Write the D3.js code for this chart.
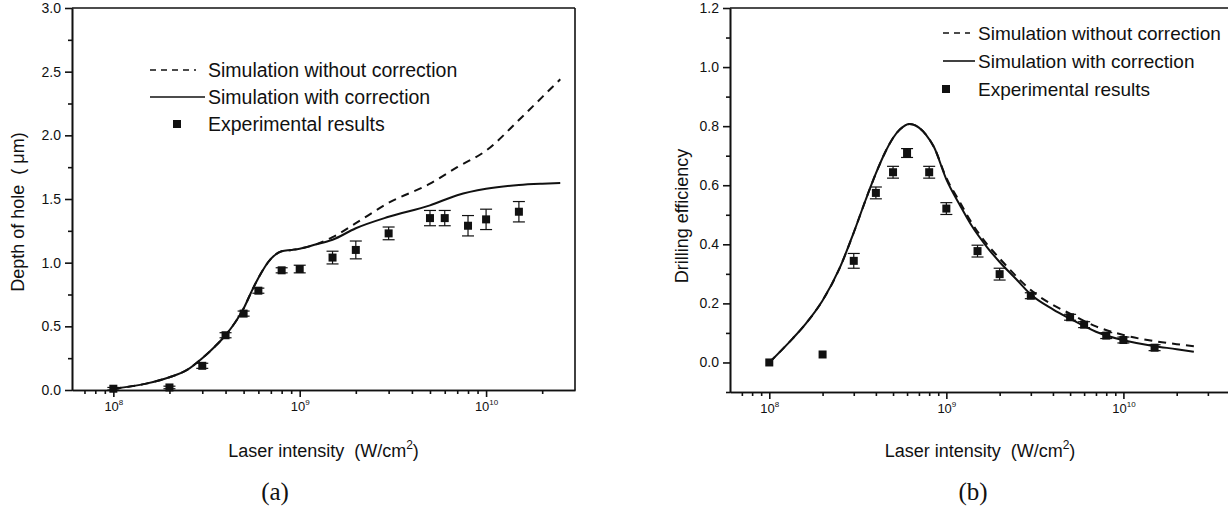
<!DOCTYPE html>
<html>
<head>
<meta charset="utf-8">
<script src="https://cdn.jsdelivr.net/npm/d3@7"></script>
<style>
  body { margin: 0; background: #fff; }
  svg text { font-family: "Liberation Sans", Arial, sans-serif; fill: #111; white-space: pre; }
  .axis path, .axis line { stroke: #111; stroke-width: 1.6; }
  .axis text { font-size: 14px; }
  .cap { font-family: "Liberation Serif", "Times New Roman", serif !important; font-size: 25px; }
</style>
</head>
<body>
<div id="chart"></div>
<script>
// ---- panel (a): depth of hole ----
var expIntensityA = [1e8, 2e8, 3e8, 4e8, 5e8, 6e8, 8e8, 1e9, 1.5e9, 2e9, 3e9, 5e9, 6e9, 8e9, 1e10, 1.5e10];
var expDepth = [0.01, 0.02, 0.19, 0.43, 0.60, 0.78, 0.94, 0.95, 1.04, 1.10, 1.23, 1.35, 1.35, 1.29, 1.34, 1.40];
var expDepthErr = [0.01, 0.01, 0.02, 0.02, 0.02, 0.02, 0.02, 0.03, 0.05, 0.07, 0.05, 0.06, 0.06, 0.08, 0.08, 0.08];

var simIntensityA = [1e8, 1.5e8, 2e8, 2.5e8, 3e8, 3.5e8, 4e8, 4.5e8, 5e8, 5.5e8, 6e8, 7e8, 8e8, 9e8, 1e9, 1.2e9, 1.5e9, 2e9, 3e9, 5e9, 7e9, 1e10, 1.5e10, 2e10, 2.5e10];
var depthWith = [0.01, 0.05, 0.10, 0.16, 0.25, 0.34, 0.43, 0.53, 0.64, 0.77, 0.88, 1.03, 1.09, 1.10, 1.11, 1.14, 1.18, 1.27, 1.36, 1.45, 1.53, 1.58, 1.61, 1.62, 1.625];
var depthWithout = [0.01, 0.05, 0.10, 0.16, 0.25, 0.34, 0.43, 0.53, 0.64, 0.77, 0.88, 1.03, 1.09, 1.10, 1.11, 1.14, 1.20, 1.31, 1.47, 1.62, 1.75, 1.88, 2.12, 2.30, 2.44];
var depthTicks = [0, 0.5, 1.0, 1.5, 2.0, 2.5, 3.0];

// ---- panel (b): drilling efficiency ----
var expIntensityB = [1e8, 2e8, 3e8, 4e8, 5e8, 6e8, 8e8, 1e9, 1.5e9, 2e9, 3e9, 5e9, 6e9, 8e9, 1e10, 1.5e10];
var expEff = [0.0, 0.027, 0.344, 0.574, 0.644, 0.709, 0.644, 0.521, 0.377, 0.299, 0.226, 0.153, 0.128, 0.091, 0.076, 0.05];
var expEffErr = [0, 0, 0.025, 0.02, 0.02, 0.015, 0.02, 0.02, 0.02, 0.02, 0.01, 0.01, 0.01, 0.01, 0.01, 0.01];

var simIntensityB = [1e8, 1.35e8, 1.6e8, 2e8, 2.5e8, 3e8, 3.5e8, 4e8, 4.5e8, 5e8, 5.5e8, 6.2e8, 7e8, 7.7e8, 8.5e8, 1e9, 1.2e9, 1.4e9, 1.7e9, 2e9, 2.5e9, 3e9, 4e9, 5e9, 7e9, 1e10, 1.5e10, 2e10, 2.5e10];
var effWith = [0.0, 0.08, 0.13, 0.21, 0.32, 0.44, 0.55, 0.64, 0.71, 0.76, 0.79, 0.807, 0.795, 0.77, 0.73, 0.62, 0.53, 0.46, 0.39, 0.34, 0.28, 0.23, 0.18, 0.148, 0.104, 0.075, 0.055, 0.045, 0.036];
var effWithout = [0.0, 0.08, 0.13, 0.21, 0.32, 0.44, 0.55, 0.64, 0.71, 0.76, 0.79, 0.807, 0.795, 0.77, 0.73, 0.625, 0.54, 0.47, 0.40, 0.352, 0.29, 0.245, 0.195, 0.165, 0.122, 0.093, 0.072, 0.062, 0.055];
var effTicks = [0.0, 0.2, 0.4, 0.6, 0.8, 1.0, 1.2];

var legendLabels = ["Simulation without correction", "Simulation with correction", "Experimental results"];
var majorX = [1e8, 1e9, 1e10];
var majorExp = ["8", "9", "10"];

var svg = d3.select("#chart").append("svg")
    .attr("width", 1228)
    .attr("height", 507);

function drawPanel(p) {
    var x = d3.scaleLog().domain(p.xDomain).range(p.xRange);
    var y = d3.scaleLinear().domain(p.yDomain).range(p.yRange);
    var g = svg.append("g");

    // minor x ticks (2..9 of every decade)
    var minor = [];
    [1e7, 1e8, 1e9, 1e10].forEach(function (d) {
        for (var k = 2; k <= 9; k++) {
            var v = d * k;
            if (v > p.xDomain[0] && v < p.xDomain[1]) minor.push(v);
        }
    });
    g.append("g").attr("class", "axis")
        .attr("transform", "translate(0," + p.yRange[0] + ")")
        .call(d3.axisBottom(x).tickValues(minor).tickSize(4).tickSizeOuter(0).tickFormat(""));
    var xa = g.append("g").attr("class", "axis")
        .attr("transform", "translate(0," + p.yRange[0] + ")")
        .call(d3.axisBottom(x).tickValues(majorX).tickSize(7).tickSizeOuter(0).tickFormat(""));
    xa.selectAll(".tick").append("text")
        .attr("y", 21)
        .attr("text-anchor", "middle")
        .style("font-size", "13px")
        .each(function (d, i) {
            var t = d3.select(this);
            t.append("tspan").text("10");
            t.append("tspan").attr("dy", -6).style("font-size", "8px").text(majorExp[i]);
        });

    // y axis with minor ticks halfway
    var yMinor = [];
    for (var i = 0; i < p.yTicks.length - 1; i++) yMinor.push((p.yTicks[i] + p.yTicks[i + 1]) / 2);
    if (p.yDomain[0] < p.yTicks[0]) yMinor.push(p.yTicks[0] - (p.yTicks[1] - p.yTicks[0]) / 2);
    g.append("g").attr("class", "axis")
        .attr("transform", "translate(" + p.xRange[0] + ",0)")
        .call(d3.axisLeft(y).tickValues(yMinor).tickSize(4).tickSizeOuter(0).tickFormat(""));
    g.append("g").attr("class", "axis")
        .attr("transform", "translate(" + p.xRange[0] + ",0)")
        .call(d3.axisLeft(y).tickValues(p.yTicks).tickSize(7).tickSizeOuter(0).tickFormat(d3.format(".1f")))
        .selectAll("text").attr("dx", -1);

    // box top / right
    g.append("line").attr("x1", p.xRange[0]).attr("x2", p.xRange[1])
        .attr("y1", p.yRange[1]).attr("y2", p.yRange[1])
        .attr("stroke", "#111").attr("stroke-width", 1.6);
    g.append("line").attr("x1", p.xRange[1]).attr("x2", p.xRange[1])
        .attr("y1", p.yRange[1]).attr("y2", p.yRange[0])
        .attr("stroke", "#111").attr("stroke-width", 1.6);

    // curves
    var line = d3.line()
        .x(function (d) { return x(d[0]); })
        .y(function (d) { return y(d[1]); })
        .curve(d3.curveMonotoneX);
    g.append("path")
        .datum(d3.zip(p.simX, p.simWithout))
        .attr("d", line).attr("fill", "none")
        .attr("stroke", "#111").attr("stroke-width", 2)
        .attr("stroke-dasharray", "8,6");
    g.append("path")
        .datum(d3.zip(p.simX, p.simWith))
        .attr("d", line).attr("fill", "none")
        .attr("stroke", "#111").attr("stroke-width", 2);

    // experimental points with error bars
    var pts = g.selectAll(".pt")
        .data(d3.zip(p.expX, p.expY, p.expErr))
        .enter().append("g").attr("class", "pt");
    pts.filter(function (d) { return d[2] > 0; }).each(function (d) {
        var s = d3.select(this);
        var cx = x(d[0]);
        var y1 = y(d[1] + d[2]), y2 = y(d[1] - d[2]);
        s.append("line").attr("x1", cx).attr("x2", cx).attr("y1", y1).attr("y2", y2)
            .attr("stroke", "#111").attr("stroke-width", 1.2);
        [y1, y2].forEach(function (yy) {
            s.append("line").attr("x1", cx - 6).attr("x2", cx + 6).attr("y1", yy).attr("y2", yy)
                .attr("stroke", "#111").attr("stroke-width", 1.2);
        });
    });
    pts.append("rect")
        .attr("x", function (d) { return x(d[0]) - 4; })
        .attr("y", function (d) { return y(d[1]) - 4; })
        .attr("width", 8).attr("height", 8)
        .attr("fill", "#111");

    // legend
    var lg = p.legend;
    g.append("line").attr("x1", lg.x0).attr("x2", lg.x1Dash)
        .attr("y1", lg.y[0]).attr("y2", lg.y[0])
        .attr("stroke", "#111").attr("stroke-width", 1.6).attr("stroke-dasharray", "6,5");
    g.append("line").attr("x1", lg.x0).attr("x2", lg.x1Solid)
        .attr("y1", lg.y[1]).attr("y2", lg.y[1])
        .attr("stroke", "#111").attr("stroke-width", 1.6);
    g.append("rect").attr("x", lg.sq - 4).attr("y", lg.y[2] - 4)
        .attr("width", 8).attr("height", 8).attr("fill", "#111");
    g.selectAll(".lgtext").data(legendLabels).enter().append("text")
        .attr("x", lg.tx)
        .attr("y", function (d, i) { return lg.y[i] + 7; })
        .style("font-size", lg.fs + "px")
        .text(function (d) { return d; });

    // axis titles
    var xt = g.append("text")
        .attr("x", (p.xRange[0] + p.xRange[1]) / 2)
        .attr("y", 457)
        .attr("text-anchor", "middle")
        .style("font-size", "18px");
    xt.append("tspan").text("Laser intensity  (W/cm");
    xt.append("tspan").attr("dy", -8).style("font-size", "12px").text("2");
    xt.append("tspan").attr("dy", 8).text(")");

    g.append("text")
        .attr("transform", "translate(" + p.yTitle[0] + "," + p.yTitle[1] + ") rotate(-90)")
        .attr("text-anchor", "middle")
        .style("font-size", "18px")
        .text(p.yLabel);

    g.append("text").attr("class", "cap")
        .attr("x", p.capX).attr("y", 500)
        .attr("text-anchor", "middle")
        .text(p.cap);
}

drawPanel({
    xDomain: [6e7, 3e10], xRange: [72, 575],
    yDomain: [0, 3], yRange: [390, 8], yTicks: depthTicks,
    simX: simIntensityA, simWith: depthWith, simWithout: depthWithout,
    expX: expIntensityA, expY: expDepth, expErr: expDepthErr,
    legend: { x0: 150, x1Dash: 196, x1Solid: 205, sq: 177, tx: 208, y: [70, 97, 124], fs: 19.5 },
    yLabel: "Depth of hole  ( \u03bcm)", yTitle: [24, 212],
    cap: "(a)", capX: 275
});

drawPanel({
    xDomain: [6e7, 4e10], xRange: [730, 1230],
    yDomain: [-0.1, 1.2], yRange: [392, 8], yTicks: effTicks,
    simX: simIntensityB, simWith: effWith, simWithout: effWithout,
    expX: expIntensityB, expY: expEff, expErr: expEffErr,
    legend: { x0: 943, x1Dash: 970, x1Solid: 975, sq: 946, tx: 978, y: [33, 61, 89], fs: 19 },
    yLabel: "Drilling efficiency", yTitle: [688, 216],
    cap: "(b)", capX: 973
});
</script>
</body>
</html>
